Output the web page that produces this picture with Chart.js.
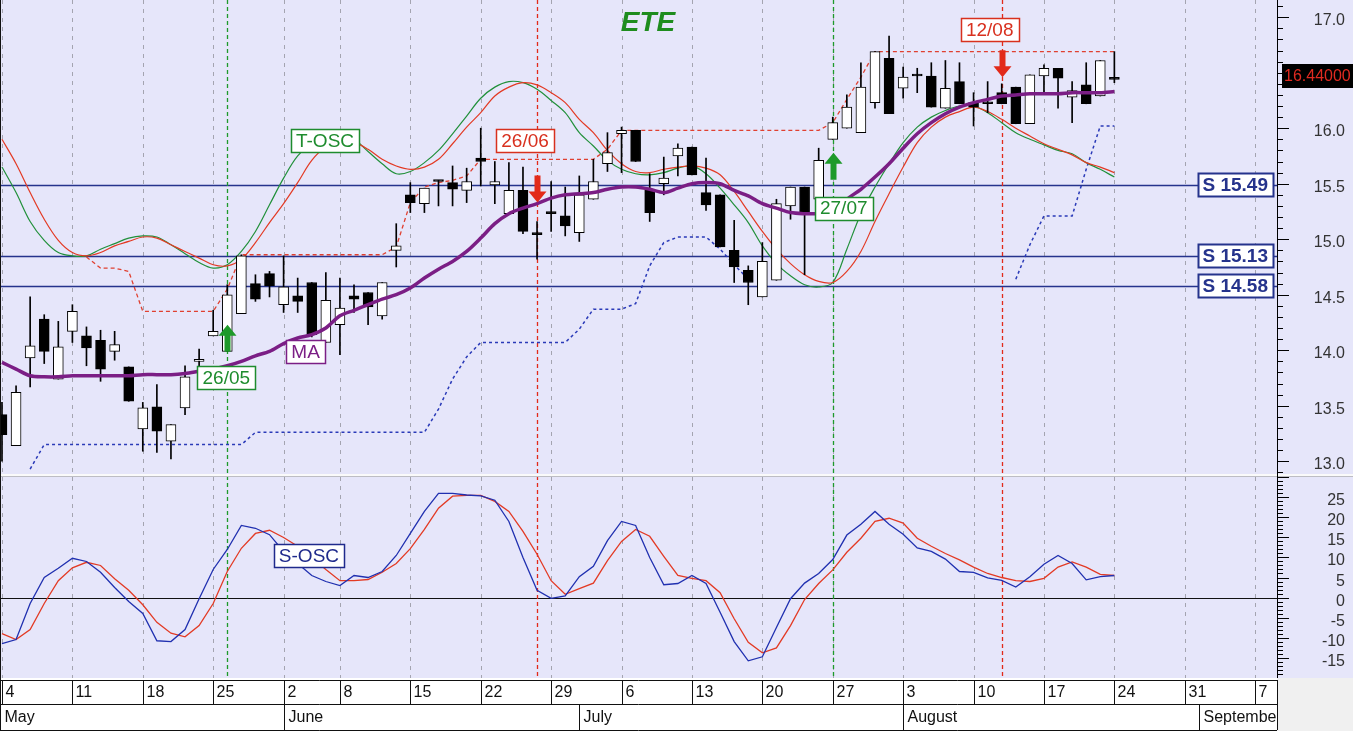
<!DOCTYPE html>
<html>
<head>
<meta charset="utf-8">
<script src="https://cdn.jsdelivr.net/npm/chart.js@4.4.1/dist/chart.umd.min.js"></script>
<style>
  html, body { margin: 0; padding: 0; background: #fff; overflow: hidden; }
  canvas { display: block; }
</style>
</head>
<body>
<canvas id="chart" width="1353" height="731" style="width:1353px;height:731px"></canvas>
<script>
// trading days shown on the axis (MM-DD)
const year = 2009;
const days = [
  '05-04','05-05','05-06','05-07','05-08','05-11','05-12','05-13','05-14','05-15',
  '05-18','05-19','05-20','05-21','05-22','05-25','05-26','05-27','05-28','05-29',
  '06-02','06-03','06-04','06-05','06-08','06-09','06-10','06-11','06-12',
  '06-15','06-16','06-17','06-18','06-19','06-22','06-23','06-24','06-25','06-26','06-29','06-30',
  '07-01','07-02','07-03','07-06','07-07','07-08','07-09','07-10','07-13','07-14','07-15','07-16','07-17',
  '07-20','07-21','07-22','07-23','07-24','07-27','07-28','07-29','07-30','07-31',
  '08-03','08-04','08-05','08-06','08-07','08-10','08-11','08-12','08-13','08-14',
  '08-17','08-18','08-19','08-20','08-21','08-24','08-25','08-26','08-27','08-28','08-31',
  '09-01','09-02','09-03','09-04','09-07','09-08','09-09'
];
const monthNames = ['January','February','March','April','May','June','July','August','September','October','November','December'];

// candles
const open = [
  13.42,13.14,13.93,14.28,13.74,14.17,14.13,14.09,13.99,13.85,
  13.29,13.49,13.18,13.48,13.90,14.13,13.99,14.33,14.60,14.69,
  14.41,14.49,14.61,14.07,14.23,14.49,14.52,14.31,14.90,15.40,
  15.32,15.53,15.51,15.44,15.73,15.49,15.23,15.44,15.06,15.25,
  15.21,15.06,15.36,15.68,15.95,15.98,15.44,15.50,15.75,15.83,
  15.42,15.40,14.90,14.72,14.48,14.63,15.30,15.47,15.36,15.90,
  16.00,15.96,16.23,16.63,16.36,16.48,16.47,16.18,16.42,16.23,
  16.23,16.32,16.37,16.04,16.47,16.54,16.28,16.39,16.29,16.45
];
const high = [
  13.53,13.68,14.48,14.32,14.26,14.41,14.21,14.18,14.17,13.85,
  13.53,13.69,13.33,13.86,14.01,14.36,14.59,14.86,14.68,14.71,
  14.85,14.65,14.61,14.70,14.65,14.59,14.52,14.61,15.14,15.51,
  15.46,15.53,15.66,15.64,16.00,15.70,15.69,15.65,15.16,15.52,
  15.47,15.57,15.72,15.96,16.01,15.98,15.59,15.74,15.86,15.83,
  15.73,15.40,15.17,14.76,14.97,15.36,15.47,15.47,15.82,16.10,
  16.30,16.59,16.69,16.83,16.55,16.54,16.59,16.61,16.59,16.32,
  16.42,16.40,16.37,16.48,16.57,16.54,16.42,16.59,16.61,16.69
];
const low = [
  13.00,13.14,13.67,13.88,13.74,14.07,13.86,13.72,13.91,13.54,
  13.09,13.08,13.02,13.42,13.85,14.13,13.99,14.33,14.44,14.48,
  14.34,14.34,14.12,14.07,13.96,14.34,14.23,14.28,14.75,15.24,
  15.24,15.30,15.30,15.33,15.48,15.32,15.23,15.05,14.82,15.07,
  15.03,14.98,15.36,15.61,15.60,15.70,15.16,15.40,15.57,15.58,
  15.26,14.93,14.61,14.41,14.48,14.63,15.18,14.68,15.31,15.90,
  16.00,15.96,16.18,16.13,16.27,16.32,16.19,16.18,16.22,16.02,
  16.14,16.22,16.04,16.04,16.31,16.18,16.05,16.22,16.29,16.41
];
const close = [
  13.24,13.62,14.04,13.99,14.03,14.35,14.02,13.83,14.05,13.54,
  13.48,13.27,13.33,13.76,13.91,14.17,14.50,14.85,14.46,14.58,
  14.57,14.44,14.14,14.45,14.38,14.46,14.39,14.61,14.94,15.33,
  15.46,15.52,15.45,15.52,15.70,15.52,15.44,15.07,15.04,15.23,
  15.12,15.40,15.52,15.78,15.98,15.70,15.24,15.55,15.82,15.58,
  15.31,14.93,14.75,14.61,14.80,15.32,15.47,15.24,15.71,16.05,
  16.19,16.37,16.69,16.13,16.46,16.47,16.19,16.36,16.22,16.19,
  16.22,16.22,16.04,16.48,16.54,16.45,16.34,16.22,16.61,16.44
];

// moving average
const ma = [
  13.89,13.83,13.77,13.76,13.76,13.77,13.77,13.77,13.77,13.77,
  13.78,13.78,13.78,13.79,13.81,13.83,13.86,13.90,13.95,13.99,
  14.06,14.11,14.14,14.20,14.31,14.36,14.41,14.46,14.50,14.56,
  14.65,14.73,14.80,14.89,15.01,15.14,15.23,15.28,15.32,15.37,
  15.40,15.41,15.42,15.45,15.47,15.47,15.45,15.42,15.46,15.50,
  15.51,15.50,15.44,15.39,15.32,15.28,15.24,15.23,15.23,15.24,
  15.36,15.45,15.56,15.68,15.82,15.95,16.05,16.13,16.19,16.23,
  16.26,16.29,16.30,16.31,16.31,16.31,16.32,16.32,16.32,16.33
];

// T-OSC (drawn on the price scale)
const tFast = [
  15.65,15.42,15.16,14.99,14.88,14.85,14.85,14.91,14.96,15.01,
  15.03,15.02,14.95,14.87,14.79,14.74,14.77,14.89,15.07,15.31,
  15.55,15.75,15.86,15.92,15.94,15.90,15.79,15.68,15.59,15.61,
  15.69,15.80,15.95,16.11,16.27,16.37,16.42,16.41,16.35,16.25,
  16.14,15.96,15.84,15.71,15.63,15.59,15.58,15.60,15.64,15.66,
  15.59,15.46,15.31,15.15,14.94,14.78,14.67,14.59,14.57,14.61,
  14.91,15.23,15.47,15.68,15.87,16.01,16.10,16.16,16.20,16.20,
  16.14,16.05,15.96,15.90,15.85,15.80,15.77,15.69,15.63,15.56
];
const tSlow = [
  15.90,15.68,15.42,15.18,14.99,14.88,14.85,14.88,14.94,14.98,
  15.02,15.01,14.95,14.89,14.83,14.77,14.76,14.82,14.97,15.15,
  15.32,15.51,15.71,15.83,15.87,15.87,15.81,15.72,15.66,15.63,
  15.65,15.72,15.86,16.01,16.14,16.29,16.37,16.41,16.39,16.32,
  16.23,16.08,15.96,15.80,15.68,15.61,15.60,15.63,15.65,15.66,
  15.64,15.58,15.43,15.25,15.07,14.91,14.78,14.68,14.62,14.61,
  14.71,14.89,15.16,15.41,15.65,15.87,16.01,16.10,16.15,16.19,
  16.15,16.08,16.00,15.93,15.86,15.81,15.76,15.69,15.65,15.60
];

// trailing stops (null = no stop)
const stopHigh = [
  null,null,null,null,null,null,14.84,14.74,14.74,14.71,
  14.35,14.35,14.35,14.35,14.35,14.35,14.55,14.86,14.86,14.86,
  14.86,14.86,14.86,14.86,14.86,14.86,14.86,14.86,14.93,15.33,
  15.47,15.51,15.53,15.57,15.72,15.72,15.72,15.72,15.72,15.72,
  15.72,15.72,15.72,15.81,15.98,15.98,15.98,15.98,15.98,15.98,
  15.98,15.98,15.98,15.98,15.98,15.98,15.98,15.98,15.98,16.05,
  16.26,16.46,16.69,16.69,16.69,16.69,16.69,16.69,16.69,16.69,
  16.69,16.69,16.69,16.69,16.69,16.69,16.69,16.69,16.69,16.69
];
const stopLow = [
  null,null,12.93,13.15,13.15,13.15,13.15,13.15,13.15,13.15,
  13.15,13.15,13.15,13.15,13.15,13.15,13.15,13.15,13.26,13.26,
  13.26,13.26,13.26,13.26,13.26,13.26,13.26,13.26,13.26,13.26,
  13.26,13.47,13.74,13.94,14.07,14.07,14.07,14.07,14.07,14.07,
  14.07,14.19,14.37,14.37,14.37,14.42,14.76,14.97,15.02,15.02,
  15.02,14.91,14.77,14.64,null,null,null,null,null,null,
  null,null,null,null,null,null,null,null,null,null,
  null,null,14.64,14.95,15.21,15.21,15.21,15.63,16.02,16.02
];

// S-OSC (lower panel)
const sFast = [
  -11.5,-10.5,-1.5,5,7.3,9.8,9,6.3,2.5,-1,
  -4,-10.8,-11,-8,-0.3,7,12,18,17.3,15.7,
  11.5,8.5,5.5,4,3,5.5,5,6.5,10.5,16,
  21.5,26,26,25.6,25.4,24.3,19,10,1.8,-0.2,
  0.4,5.2,7.8,14.2,19,18,10,3.2,3.5,5.5,
  3.5,-3.7,-11,-15.8,-14.8,-7.5,-0.3,3.6,6,9.5,
  15.6,18.3,21.5,18.3,15.8,12.4,11.5,9.6,6.5,6.3,
  4.9,4.3,2.6,5.2,8.3,10.5,8.5,4.4,5.2,5.5
];
const sSlow = [
  -9,-10.5,-8,-1.5,4.2,7.4,8.8,8,4.7,1.8,
  -1.8,-6.2,-8.9,-9.8,-7,-1.5,6.5,12.3,16,16.8,
  15,12.8,10,7,4.2,4.2,4.5,6.3,8.5,12.2,
  17,22.3,25.3,25.5,25.5,24,21.5,16.5,10.8,4.2,
  0.8,2.2,3.6,9.2,14,17,15.3,10.3,5.5,4.8,
  4.2,1.2,-5.3,-11.2,-13.8,-12.6,-7,-0.5,3.5,6.9,
  11.3,14.8,19,19.8,18.6,14.8,12.8,11,9.4,7.6,
  6,5,4.2,4,4.8,7.6,8.9,7.6,5.8,5.5
];

// support levels and their labels
const supportLevels = [15.49, 14.85, 14.58];
const supportLabels = ['S 15.49', 'S 15.13', 'S 14.58'];

// signals
const signalDates = ['05-26', '06-26', '07-27', '08-12'];
const signalSides = ['buy', 'sell', 'buy', 'sell'];

// placement of annotations (layout, not data)
const signalLayout = {
  arrowTip: [14.23, 15.33, 15.78, 16.46],
  labelAt: [13.75, 15.89, 15.28, 16.89],
  labelDx: [-1, -12, 11, -12]
};
const lineTags = [
  { text: 'T-OSC', x: 22.94, y: 15.89, axis: 'y', color: '#1E8C2E' },
  { text: 'MA', x: 21.56, y: 13.99, axis: 'y', color: '#7B1E85' },
  { text: 'S-OSC', x: 21.8, y: 10.4, axis: 'yOsc', color: '#1F2A8C' }
];

const FONT = "'Liberation Sans', Arial, sans-serif";
const BG = '#E6E6FA';
const NAVY = '#25338C';
const GREEN = '#1E9A2A';
const RED = '#E22A1A';

const xy = arr => arr.map((v, i) => ({ x: i, y: v }));
const dow = d => new Date(year, +d.slice(0, 2) - 1, +d.slice(3)).getDay();
const weekStarts = days.map((d, i) => i).filter(i => i === 0 || dow(days[i]) < dow(days[i - 1]));
const monthStarts = days.map((d, i) => i).filter(i => i === 0 || days[i].slice(0, 2) !== days[i - 1].slice(0, 2));

function hline(ctx, x1, y1, x2, y2) {
  ctx.beginPath(); ctx.moveTo(x1, y1); ctx.lineTo(x2, y2); ctx.stroke();
}

function tag(ctx, text, cx, cy, color, bold, lw) {
  ctx.font = (bold ? 'bold ' : '') + '19px ' + FONT;
  const w = Math.round(ctx.measureText(text).width + 10), h = 23;
  const x = Math.round(cx - w / 2) + 0.5, y = Math.round(cy - h / 2) + 0.5;
  ctx.fillStyle = '#fff'; ctx.fillRect(x, y, w, h);
  ctx.setLineDash([]); ctx.strokeStyle = color; ctx.lineWidth = lw || 1.5; ctx.strokeRect(x, y, w, h);
  ctx.fillStyle = color; ctx.textAlign = 'center'; ctx.textBaseline = 'middle';
  ctx.fillText(text, cx, cy + 1);
}

function arrow(ctx, cx, tip, up, color) {
  const s = up ? 1 : -1;
  ctx.fillStyle = color;
  ctx.beginPath();
  ctx.moveTo(cx, tip);
  ctx.lineTo(cx + 9, tip + s * 11);
  ctx.lineTo(cx + 3, tip + s * 11);
  ctx.lineTo(cx + 3, tip + s * 27);
  ctx.lineTo(cx - 3, tip + s * 27);
  ctx.lineTo(cx - 3, tip + s * 11);
  ctx.lineTo(cx - 9, tip + s * 11);
  ctx.closePath(); ctx.fill();
}

function rightAxis(ctx, scale, x0, W, minor, major, from, to, labelFrom, labelTo, fmt) {
  ctx.setLineDash([]); ctx.strokeStyle = '#000'; ctx.lineWidth = 1;
  hline(ctx, x0 + 0.5, scale.top, x0 + 0.5, scale.bottom);
  ctx.font = '16px ' + FONT; ctx.fillStyle = '#333'; ctx.textAlign = 'right'; ctx.textBaseline = 'middle';
  const n = Math.round((to - from) / minor);
  for (let k = 0; k <= n; k++) {
    const v = +(from + k * minor).toFixed(4);
    const y = Math.round(scale.getPixelForValue(v)) + 0.5;
    if (y < scale.top || y > scale.bottom) continue;
    const isMajor = Math.abs(v / major - Math.round(v / major)) < 1e-6;
    hline(ctx, x0, y, x0 + (isMajor ? 12 : 6), y);
    if (isMajor && v >= labelFrom - 1e-6 && v <= labelTo + 1e-6) ctx.fillText(fmt(v), W - 8, y + 3);
  }
}

const overlay = {
  id: 'overlay',
  beforeDraw(chart) {
    const { ctx, chartArea: ca, width: W, height: H } = chart;
    ctx.save();
    ctx.fillStyle = BG; ctx.fillRect(0, 0, W, ca.bottom);
    ctx.fillStyle = '#fff'; ctx.fillRect(0, ca.bottom, ca.right, H - ca.bottom);
    ctx.fillStyle = '#F0F0F0'; ctx.fillRect(ca.right, ca.bottom, W - ca.right, H - ca.bottom);
    ctx.restore();
  },
  beforeDatasetsDraw(chart) {
    const { ctx, chartArea: ca, scales } = chart;
    const X = scales.x, Y = scales.y, O = scales.yOsc;
    ctx.save();
    // weekly grid
    ctx.strokeStyle = '#A4A4B0'; ctx.lineWidth = 1; ctx.setLineDash([4, 5]);
    weekStarts.forEach(i => {
      const x = Math.round(X.getPixelForValue(i)) + 0.5;
      if (x > ca.left && x < ca.right) hline(ctx, x, ca.top, x, ca.bottom);
    });
    // zero line of the oscillator panel
    ctx.setLineDash([]); ctx.strokeStyle = '#111'; ctx.lineWidth = 1;
    const y0 = Math.round(O.getPixelForValue(0)) + 0.5;
    hline(ctx, ca.left, y0, ca.right, y0);
    // support lines
    ctx.strokeStyle = NAVY; ctx.lineWidth = 1.3;
    supportLevels.forEach(v => {
      const y = Math.round(Y.getPixelForValue(v)) + 0.5;
      hline(ctx, ca.left, y, ca.right, y);
    });
    // signal verticals
    ctx.lineWidth = 1.3; ctx.setLineDash([4, 3]);
    signalDates.forEach((d, k) => {
      const x = Math.round(X.getPixelForValue(days.indexOf(d))) + 0.5;
      ctx.strokeStyle = signalSides[k] === 'buy' ? GREEN : RED;
      hline(ctx, x, ca.top, x, ca.bottom);
    });
    ctx.restore();
  },
  afterDraw(chart) {
    const { ctx, chartArea: ca, scales, width: W, height: H } = chart;
    const X = scales.x, Y = scales.y, O = scales.yOsc;
    ctx.save();

    // arrows and signal tags
    signalDates.forEach((d, k) => {
      const i = days.indexOf(d);
      const x = X.getPixelForValue(i);
      const buy = signalSides[k] === 'buy';
      const col = buy ? GREEN : RED;
      arrow(ctx, Math.round(x) + 0.5, Y.getPixelForValue(signalLayout.arrowTip[k]), buy, col);
      const [dd, mm] = [d.slice(3), d.slice(0, 2)];
      tag(ctx, dd + '/' + mm, x + signalLayout.labelDx[k], Y.getPixelForValue(signalLayout.labelAt[k]),
          buy ? '#1E8C2E' : '#D8301E', false, 1.5);
    });

    // series tags
    lineTags.forEach(t => {
      tag(ctx, t.text, X.getPixelForValue(t.x), scales[t.axis].getPixelForValue(t.y), t.color, false, 1.5);
    });

    // support tags
    supportLevels.forEach((v, k) => {
      ctx.font = 'bold 19px ' + FONT;
      const w = ctx.measureText(supportLabels[k]).width + 10;
      tag(ctx, supportLabels[k], ca.right - 4 - w / 2, Y.getPixelForValue(v), NAVY, true, 2);
    });

    // title
    ctx.font = 'italic bold 28px ' + FONT; ctx.fillStyle = '#1E8C1E';
    ctx.textAlign = 'center'; ctx.textBaseline = 'middle';
    ctx.fillText('ETE', 648, 23);

    // panel separator
    ctx.fillStyle = '#FAFAFA'; ctx.fillRect(0, Y.bottom - 1, W, 3);
    ctx.fillStyle = '#BDBDC4'; ctx.fillRect(0, Y.bottom + 1, W, 1);

    // right axes
    rightAxis(ctx, Y, ca.right, W, 0.1, 0.5, 12.9, 17.1, 13.0, 17.0, v => v.toFixed(1));
    rightAxis(ctx, O, ca.right, W, 1, 5, -20, 30, -15, 25, v => String(v));

    // last price badge
    const last = close[close.length - 1];
    const yl = Math.round(Y.getPixelForValue(last)) - 3;
    ctx.fillStyle = '#000'; ctx.fillRect(ca.right + 5, yl - 12, W - ca.right - 5, 24);
    ctx.fillStyle = '#E02A20'; ctx.font = '16px ' + FONT; ctx.textAlign = 'left'; ctx.textBaseline = 'middle';
    ctx.fillText(last.toFixed(5), ca.right + 7, yl + 1);

    // date axis
    const top = ca.bottom + 2, mid = top + 24, bot = H - 1;
    ctx.save();
    ctx.beginPath(); ctx.rect(0, ca.bottom, ca.right, H - ca.bottom); ctx.clip();
    ctx.strokeStyle = '#111'; ctx.lineWidth = 1; ctx.setLineDash([]);
    hline(ctx, 0, top + 0.5, ca.right, top + 0.5);
    hline(ctx, 0, mid + 0.5, ca.right, mid + 0.5);
    hline(ctx, 0, bot + 0.5, ca.right, bot + 0.5);
    ctx.font = '16px ' + FONT; ctx.fillStyle = '#111'; ctx.textAlign = 'left'; ctx.textBaseline = 'middle';
    weekStarts.forEach(i => {
      const x = Math.round(X.getPixelForValue(i)) + 0.5;
      hline(ctx, x, top, x, mid);
      ctx.fillText(String(+days[i].slice(3)), x + 3, (top + mid) / 2 + 1);
    });
    monthStarts.forEach(i => {
      const x = i === 0 ? 0.5 : Math.round(X.getPixelForValue(i)) + 0.5;
      hline(ctx, x, mid, x, bot);
      ctx.fillText(monthNames[+days[i].slice(0, 2) - 1], x + 4, (mid + bot) / 2 + 1);
    });
    ctx.restore();
    ctx.strokeStyle = '#111'; ctx.lineWidth = 1;
    hline(ctx, ca.right + 0.5, top, ca.right + 0.5, bot);
    hline(ctx, 0.5, 0, 0.5, H);

    ctx.restore();
  }
};

const bodyColors = close.map((c, i) => (c >= open[i] ? '#fff' : '#000'));

new Chart(document.getElementById('chart'), {
  type: 'bar',
  data: {
    datasets: [
      { type: 'line', data: xy(stopLow), borderColor: '#2A3AB8', borderWidth: 1.5, borderDash: [3, 3],
        pointRadius: 0, spanGaps: false, order: 9, yAxisID: 'y' },
      { type: 'line', data: xy(stopHigh), borderColor: '#E04030', borderWidth: 1.3, borderDash: [4, 3],
        pointRadius: 0, spanGaps: false, order: 9, yAxisID: 'y' },
      { type: 'line', data: xy(tSlow), borderColor: '#E33A24', borderWidth: 1.2, pointRadius: 0,
        tension: 0.35, order: 8, yAxisID: 'y' },
      { type: 'line', data: xy(tFast), borderColor: '#21903A', borderWidth: 1.2, pointRadius: 0,
        tension: 0.35, order: 8, yAxisID: 'y' },
      { type: 'bar', data: low.map((l, i) => ({ x: i, y: [l, high[i]] })), backgroundColor: '#000',
        borderWidth: 0, barThickness: 1, grouped: false, order: 6, yAxisID: 'y' },
      { type: 'bar', data: open.map((o, i) => ({ x: i, y: [o, close[i]] })), backgroundColor: bodyColors,
        borderColor: '#000', borderWidth: 1, borderSkipped: false, barThickness: 10, minBarLength: 2,
        grouped: false, order: 5, yAxisID: 'y' },
      { type: 'line', data: xy(ma), borderColor: '#7B1E85', borderWidth: 3.5, pointRadius: 0,
        tension: 0.3, order: 4, yAxisID: 'y' },
      { type: 'line', data: xy(sSlow), borderColor: '#E33A24', borderWidth: 1.3, pointRadius: 0,
        order: 3, yAxisID: 'yOsc' },
      { type: 'line', data: xy(sFast), borderColor: '#2030B0', borderWidth: 1.3, pointRadius: 0,
        order: 2, yAxisID: 'yOsc' }
    ]
  },
  options: {
    responsive: false,
    animation: false,
    layout: { padding: { left: 1, right: 0, top: 0, bottom: 53 } },
    plugins: { legend: { display: false }, tooltip: { enabled: false } },
    scales: {
      x: { type: 'linear', display: false, offset: false, grid: { offset: false }, min: -0.07, max: 90.55 },
      y: {
        position: 'right', stack: 'panels', stackWeight: 475, min: 12.876, max: 17.155,
        grid: { display: false, drawTicks: false }, border: { display: false }, ticks: { display: false },
        afterFit: s => { s.width = 76; }
      },
      yOsc: {
        position: 'right', stack: 'panels', stackWeight: 203, min: -20.1, max: 30.6,
        grid: { display: false, drawTicks: false }, border: { display: false }, ticks: { display: false },
        afterFit: s => { s.width = 76; }
      }
    }
  },
  plugins: [overlay]
});
</script>
</body>
</html>
